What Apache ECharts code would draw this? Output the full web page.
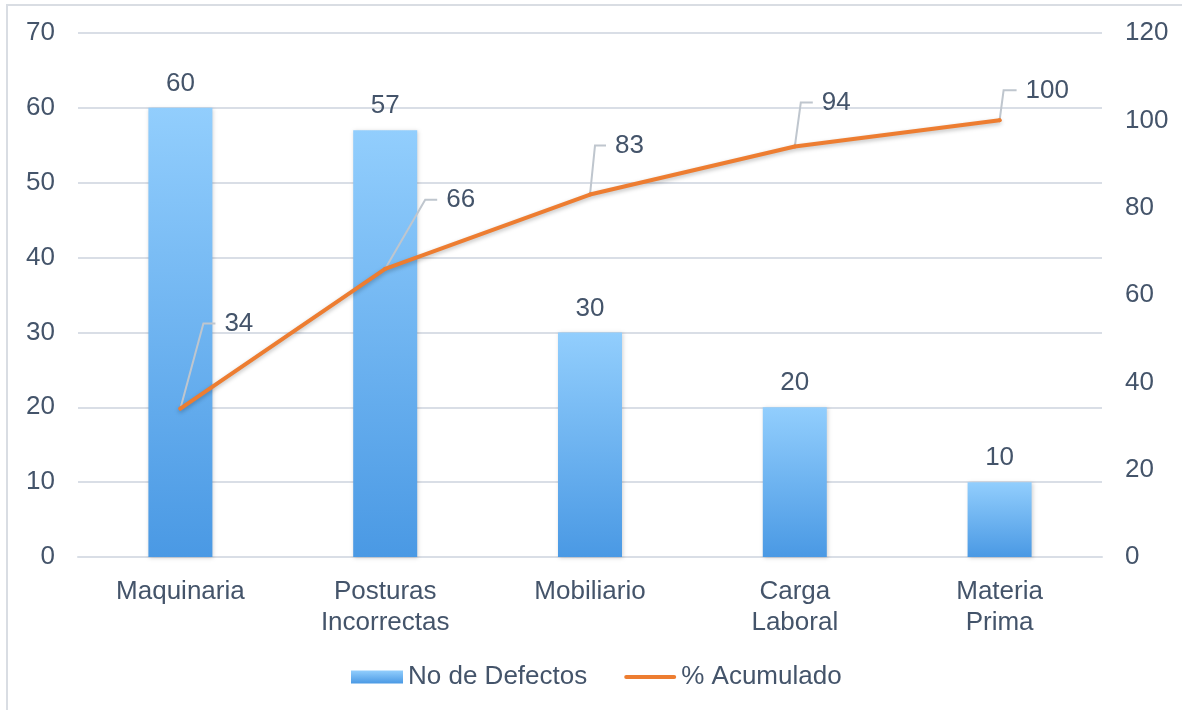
<!DOCTYPE html>
<html>
<head>
<meta charset="utf-8">
<script src="https://cdn.jsdelivr.net/npm/echarts@6/dist/echarts.min.js"></script>
<style>
  html, body { margin: 0; padding: 0; background: #fff; }
  #main { width: 1182px; height: 710px; }
</style>
</head>
<body>
<div id="main"></div>
<script>
// datos del diagrama de pareto
var categorias = ['Maquinaria', 'Posturas\nIncorrectas', 'Mobiliario', 'Carga\nLaboral', 'Materia\nPrima'];
var defectos = [60, 57, 30, 20, 10];
var acumulado = [34, 66, 83, 94, 100];
var ticksIzq = [0, 70, 10];
var ticksDer = [0, 120, 20];

var textColor = '#44546a';
var font = 'Liberation Sans';
var fs = 26;

// donde va cada etiqueta del % acumulado: [dx codo, dy codo, largo tramo horizontal]
var calloutOffsets = [[23, -85, 12], [40, -69, 12], [5, -49, 11], [6, -44, 12], [4, -30, 13]];

var chart = echarts.init(document.getElementById('main'));

var option = {
  backgroundColor: '#fff',
  textStyle: { fontFamily: font },
  grid: { left: 78, right: 80, top: 33, bottom: 153 },
  legend: {
    left: 346,
    top: 659,
    itemWidth: 52,
    itemHeight: 13,
    itemGap: 37,
    textStyle: { color: textColor, fontSize: fs, fontFamily: font },
    data: [
      { name: 'No de Defectos', icon: 'rect' },
      { name: '% Acumulado', icon: 'path://M2,0 L50,0 A2,2 0 0 1 50,4 L2,4 A2,2 0 0 1 2,0 Z' }
    ]
  },
  xAxis: {
    type: 'category',
    data: categorias,
    axisTick: { show: false },
    axisLine: { lineStyle: { color: '#d9dee6', width: 2 } },
    axisLabel: { color: textColor, fontSize: fs, lineHeight: 31, margin: 19, fontFamily: font }
  },
  yAxis: [{
    type: 'value',
    min: ticksIzq[0], max: ticksIzq[1], interval: ticksIzq[2],
    axisLine: { show: false },
    axisTick: { show: false },
    splitLine: { lineStyle: { color: '#d9dee6', width: 2 } },
    axisLabel: { color: textColor, fontSize: fs, margin: 23, fontFamily: font }
  }, {
    type: 'value',
    min: ticksDer[0], max: ticksDer[1], interval: ticksDer[2],
    axisLine: { show: false },
    axisTick: { show: false },
    splitLine: { show: false },
    axisLabel: { color: textColor, fontSize: fs, margin: 23, fontFamily: font }
  }],
  series: [{
    name: 'No de Defectos',
    type: 'bar',
    barWidth: 64,
    z: 1,
    data: defectos,
    itemStyle: {
      color: new echarts.graphic.LinearGradient(0, 0, 0, 1, [
        { offset: 0, color: '#92cefd' },
        { offset: 1, color: '#4a99e4' }
      ]),
      shadowBlur: 4,
      shadowColor: 'rgba(0,0,0,0.18)',
      shadowOffsetX: 1,
      shadowOffsetY: 1
    },
    label: {
      show: true,
      position: 'top',
      distance: 11,
      color: textColor,
      fontSize: fs,
      fontFamily: font
    }
  }, {
    name: '% Acumulado',
    type: 'line',
    yAxisIndex: 1,
    data: acumulado,
    symbol: 'circle',
    symbolSize: 4,
    z: 5,
    itemStyle: { color: '#ed7d31' },
    lineStyle: {
      color: '#ed7d31',
      width: 4,
      cap: 'round',
      shadowBlur: 4,
      shadowColor: 'rgba(0,0,0,0.25)',
      shadowOffsetY: 2
    },
    label: {
      show: true,
      color: textColor,
      fontSize: fs,
      fontFamily: font
    },
    labelLayout: function (p) {
      var o = calloutOffsets[p.dataIndex];
      var px = p.rect.x + p.rect.width / 2;
      var py = p.rect.y + p.rect.height / 2;
      return {
        x: px + o[0] + o[2] + 9,
        y: py + o[1],
        align: 'left',
        verticalAlign: 'middle'
      };
    }
  }]
};
chart.setOption(option);

// lineas guia de las etiquetas (codo + tramo horizontal)
var guias = [{
  type: 'rect',
  shape: { x: 7, y: 5, width: 1200, height: 720 },
  style: { fill: 'none', stroke: '#d9dde3', lineWidth: 2 },
  silent: true
}];
acumulado.forEach(function (v, i) {
  var p = chart.convertToPixel({ seriesIndex: 1 }, [i, v]);
  var o = calloutOffsets[i];
  var bx = p[0] + o[0], by = p[1] + o[1];
  guias.push({
    type: 'polyline',
    z: 3,
    shape: { points: [[p[0], p[1]], [bx, by], [bx + o[2], by]] },
    style: { stroke: '#bfc6ce', lineWidth: 2, fill: 'none' },
    silent: true
  });
});
chart.setOption({ graphic: guias });
</script>
</body>
</html>
